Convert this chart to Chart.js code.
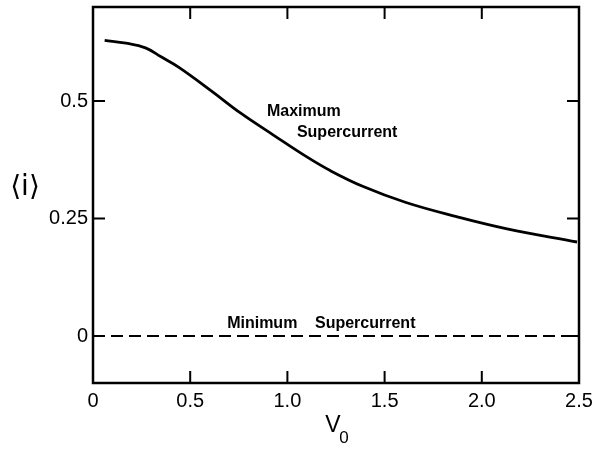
<!DOCTYPE html>
<html>
<head>
<meta charset="utf-8">
<script src="https://cdn.jsdelivr.net/npm/chart.js@4"></script>
<style>
  html, body { margin: 0; padding: 0; background: #fff; }
  #wrap { width: 592px; height: 449px; }
</style>
</head>
<body>
<div id="wrap"><canvas id="chart" width="592" height="449"></canvas></div>
<script>
// ---- Data ----
const maxV  = [0.06, 0.17, 0.27, 0.35, 0.44, 0.61, 0.76, 0.93, 1.10, 1.22, 1.39, 1.61, 1.87, 2.13, 2.49];
const maxI  = [0.629, 0.623, 0.613, 0.594, 0.572, 0.521, 0.474, 0.427, 0.381, 0.352, 0.318, 0.284, 0.254, 0.228, 0.200];
const minV  = [0, 2.5];
const minI  = [0, 0];
const xTicks = [0, 0.5, 1.0, 1.5, 2.0, 2.5];
const yTicks = [0, 0.25, 0.5];

const toPts = (xs, ys) => xs.map((x, i) => ({ x: x, y: ys[i] }));

// ---- Frame, inward ticks and text labels ----
const paperPlugin = {
  id: 'paper',
  afterDatasetsDraw(chart) {
    const { ctx, chartArea: a, scales: { x, y } } = chart;
    ctx.save();
    ctx.strokeStyle = '#000';
    ctx.lineWidth = 2.5;
    ctx.strokeRect(a.left, a.top, a.right - a.left, a.bottom - a.top);

    ctx.lineWidth = 2;
    ctx.beginPath();
    xTicks.forEach(v => {
      if (v <= x.min || v >= x.max) return;
      const px = x.getPixelForValue(v);
      ctx.moveTo(px, a.bottom); ctx.lineTo(px, a.bottom - 12);
      ctx.moveTo(px, a.top);    ctx.lineTo(px, a.top + 12);
    });
    yTicks.forEach(v => {
      const py = y.getPixelForValue(v);
      ctx.moveTo(a.left, py);  ctx.lineTo(a.left + 12, py);
      ctx.moveTo(a.right, py); ctx.lineTo(a.right - 12, py);
    });
    ctx.stroke();

    // curve annotations
    ctx.fillStyle = '#000';
    ctx.textBaseline = 'alphabetic';
    ctx.textAlign = 'left';
    ctx.font = 'bold 16px "Liberation Sans", Arial, sans-serif';
    ctx.fillText('Maximum',      x.getPixelForValue(0.895), y.getPixelForValue(0.468));
    ctx.fillText('Supercurrent', x.getPixelForValue(1.049), y.getPixelForValue(0.424));
    ctx.fillText('Minimum',      x.getPixelForValue(0.69),  y.getPixelForValue(0.017));
    ctx.fillText('Supercurrent', x.getPixelForValue(1.142), y.getPixelForValue(0.017));

    // axis titles
    ctx.font = '28px "DejaVu Sans", sans-serif';
    ctx.textAlign = 'center';
    ctx.textBaseline = 'middle';
    ctx.fillText('\u27E8i\u27E9', 25, 188);

    const cx = (a.left + a.right) / 2;
    ctx.textBaseline = 'alphabetic';
    ctx.font = '23px "Liberation Sans", Arial, sans-serif';
    ctx.fillText('V', cx - 3, a.bottom + 49);
    ctx.font = '17px "Liberation Sans", Arial, sans-serif';
    ctx.fillText('0', cx + 8, a.bottom + 60);
    ctx.restore();
  }
};

new Chart(document.getElementById('chart'), {
  type: 'scatter',
  data: {
    datasets: [
      { label: 'Maximum Supercurrent', data: toPts(maxV, maxI), showLine: true,
        borderColor: '#000', borderWidth: 2.8, pointRadius: 0, tension: 0.4 },
      { label: 'Minimum Supercurrent', data: toPts(minV, minI), showLine: true,
        borderColor: '#000', borderWidth: 2, borderDash: [12, 6], pointRadius: 0 }
    ]
  },
  options: {
    responsive: false,
    animation: false,
    layout: { padding: { left: 0, top: 7, right: 13, bottom: 0 } },
    plugins: { legend: { display: false }, tooltip: { enabled: false } },
    scales: {
      x: {
        type: 'linear', min: 0, max: 2.5,
        afterBuildTicks: s => { s.ticks = xTicks.map(v => ({ value: v })); },
        afterFit: s => { s.height = 66; s.paddingLeft = 0; s.paddingRight = 0; },
        grid: { display: false, drawTicks: false },
        border: { display: false },
        ticks: {
          padding: 6, color: '#000',
          font: { family: '"Liberation Sans", Arial, sans-serif', size: 20 },
          callback: v => v === 0 ? '0' : v.toFixed(1)
        }
      },
      y: {
        type: 'linear', min: -0.1, max: 0.7,
        afterBuildTicks: s => { s.ticks = yTicks.map(v => ({ value: v })); },
        afterFit: s => { s.width = 93; s.paddingTop = 0; s.paddingBottom = 0; },
        grid: { display: false, drawTicks: false },
        border: { display: false },
        ticks: {
          padding: 5, color: '#000',
          font: { family: '"Liberation Sans", Arial, sans-serif', size: 20 },
          callback: v => String(v)
        }
      }
    }
  },
  plugins: [paperPlugin]
});
</script>
</body>
</html>
